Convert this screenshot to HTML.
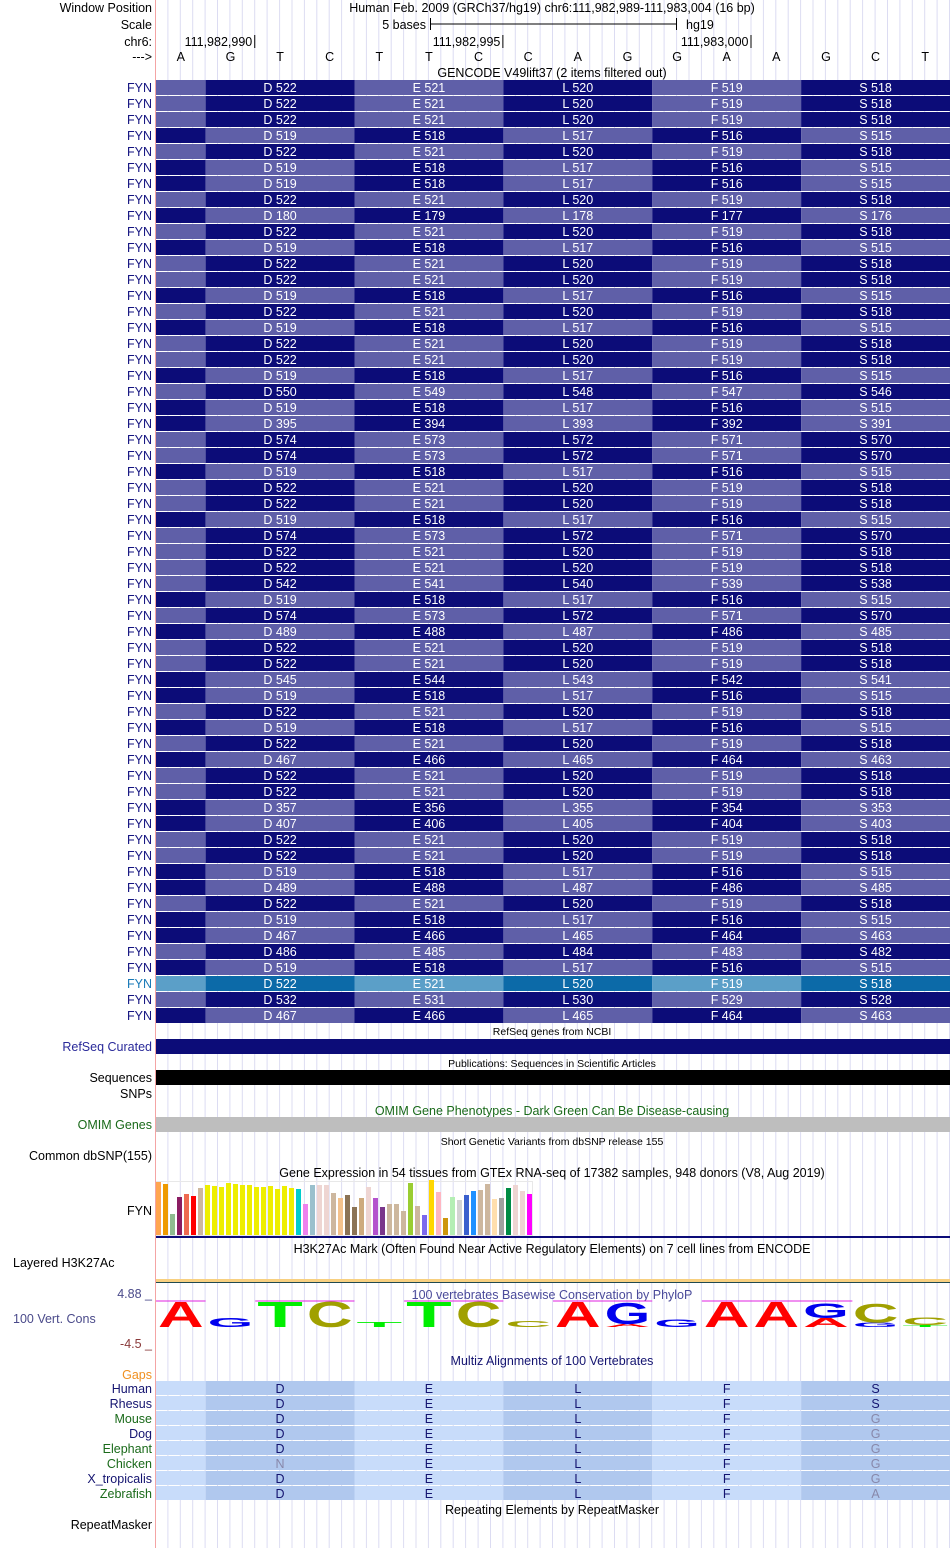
<!DOCTYPE html>
<html><head><meta charset="utf-8"><style>
html,body{margin:0;padding:0;background:#fff;}
svg{display:block;font-family:"Liberation Sans",sans-serif;}
</style></head><body>
<svg id="s" width="950" height="1548" viewBox="0 0 950 1548" xmlns="http://www.w3.org/2000/svg">
<g id="grid"></g>
<line x1="155.5" y1="0" x2="155.5" y2="1548" stroke="#f4a4a4" stroke-width="1"/>
<g font-size="12.5" fill="#000">
<text x="152" y="12" text-anchor="end">Window Position</text>
<text x="552" y="12" text-anchor="middle">Human Feb. 2009 (GRCh37/hg19)   chr6:111,982,989-111,983,004 (16 bp)</text>
<text x="152" y="29" text-anchor="end">Scale</text>
<text x="426" y="29" text-anchor="end">5 bases</text>
<line x1="430" y1="24" x2="677" y2="24" stroke="#000"/>
<line x1="430.5" y1="18" x2="430.5" y2="30" stroke="#000"/>
<line x1="676.5" y1="18" x2="676.5" y2="30" stroke="#000"/>
<text x="686" y="29">hg19</text>
<text x="152" y="46" text-anchor="end">chr6:</text>
<text x="152" y="61" text-anchor="end">---&gt;</text>
<text x="552" y="77" text-anchor="middle">GENCODE V49lift37 (2 items filtered out)</text>
</g>
<g id="ticks" font-size="12.5"></g>
<g id="bases" font-size="12.5"></g>
<g id="rows" font-size="12.5"></g>
<g font-size="12.5">
<text x="552" y="1035" text-anchor="middle" font-size="10.5">RefSeq genes from NCBI</text>
<text x="152" y="1051" text-anchor="end" fill="#2a2a9a">RefSeq Curated</text>
<rect x="156" y="1039" width="794" height="15" fill="#0c0c78"/>
<text x="552" y="1067" text-anchor="middle" font-size="10.5">Publications: Sequences in Scientific Articles</text>
<text x="152" y="1082" text-anchor="end">Sequences</text>
<rect x="156" y="1070" width="794" height="15" fill="#000"/>
<text x="152" y="1098" text-anchor="end">SNPs</text>
<text x="552" y="1115" text-anchor="middle" fill="#1a6a1a">OMIM Gene Phenotypes - Dark Green Can Be Disease-causing</text>
<text x="152" y="1129" text-anchor="end" fill="#1a6a1a">OMIM Genes</text>
<rect x="156" y="1117" width="794" height="15" fill="#bebebe"/>
<text x="552" y="1145" text-anchor="middle" font-size="10.5">Short Genetic Variants from dbSNP release 155</text>
<text x="152" y="1160" text-anchor="end">Common dbSNP(155)</text>
<text x="552" y="1177" text-anchor="middle">Gene Expression in 54 tissues from GTEx RNA-seq of 17382 samples, 948 donors (V8, Aug 2019)</text>
<text x="152" y="1215" text-anchor="end">FYN</text>
<rect x="156.5" y="1181.5" width="376" height="54" fill="none" stroke="#e8e8e8"/>
</g>
<g id="gtex"></g>
<g font-size="12.5">
<rect x="156" y="1236" width="794" height="2" fill="#0c0c78"/>
<text x="552" y="1253" text-anchor="middle">H3K27Ac Mark (Often Found Near Active Regulatory Elements) on 7 cell lines from ENCODE</text>
<text x="13" y="1267">Layered H3K27Ac</text>
<rect x="156" y="1279" width="794" height="3" fill="#f8d080"/>
<rect x="156" y="1282" width="794" height="1" fill="#204a50"/>
<text x="152" y="1298" text-anchor="end" fill="#4a4a8a">4.88 _</text>
<text x="13" y="1323" fill="#4a4a8a">100 Vert. Cons</text>
<text x="152" y="1348" text-anchor="end" fill="#8a3a3a">-4.5 _</text>
<text x="552" y="1299" text-anchor="middle" fill="#4a4a9a">100 vertebrates Basewise Conservation by PhyloP</text>
<text x="552" y="1365" text-anchor="middle" fill="#141470">Multiz Alignments of 100 Vertebrates</text>
<text x="152" y="1379" text-anchor="end" fill="#f09020">Gaps</text>
<text x="552" y="1514" text-anchor="middle">Repeating Elements by RepeatMasker</text>
<text x="152" y="1529" text-anchor="end">RepeatMasker</text>
</g>
<g id="magenta"></g>
<g id="logo" font-family="Liberation Sans" font-weight="bold"></g>
<g id="multiz" font-size="12.5"></g>
</svg>
<script>
const bases=["A","G","T","C","T","T","C","C","A","G","G","A","A","G","C","T"];
const tickLabels=["111,982,990","111,982,995","111,983,000"];
const tickBase=[2,7,12];
const dValues=[522,522,522,519,522,519,519,522,180,522,519,522,522,519,522,519,522,522,519,550,519,395,574,574,519,522,522,519,574,522,522,542,519,574,489,522,522,545,519,522,519,522,467,522,522,357,407,522,522,519,489,522,519,467,486,519,522,532,467];
const dDark=dValues.map((v,i)=> i===8?false:(v%2===0));
const highlightRow=56;
const aminoAcids=["D","E","L","F","S"];
const gtexValues=[53,51,21,38,41,39,47,50,49,48,52,51,50,50,48,48,49,46,49,47,46,31,50,50,50,42,37,40,28,37,48,37,28,31,31,24,52,29,20,55,43,17,38,35,40,44,45,51,36,37,47,50,44,41];
const gtexColors=["#ffa54f","#ee9a00","#8fbc8f","#8b1c62","#ee6a50","#ff0000","#cdb79e","#eeee00","#eeee00","#eeee00","#eeee00","#eeee00","#eeee00","#eeee00","#eeee00","#eeee00","#eeee00","#eeee00","#eeee00","#eeee00","#00cdcd","#ee82ee","#9ac0cd","#eed5d2","#eed5d2","#cdb79e","#f4c28c","#8b7355","#8b7355","#cdaa7d","#eed5d2","#b452cd","#7a378b","#cdb79e","#cdb79e","#cdb79e","#9acd32","#cdb79e","#7b68ee","#ffd700","#ffb6c1","#cd950c","#b4eeb4","#d3d3d3","#3a5fcd","#1e90ff","#cdb79e","#cdb79e","#ffdead","#a0a0a0","#008b45","#eed5d2","#eed5d2","#ff00ff"];
const logoLetters=["A","G","T","C","T","T","C","C","A","G","G","A","A","G","C","C"];
const logoHeights=[1.0,0.35,1.0,1.0,0.2,1.0,1.0,0.22,1.0,0.85,0.3,1.0,1.0,0.6,0.75,0.3];
const logoSub=[null,null,null,null,null,null,null,null,null,["A",0.12],null,null,null,["A",0.35],["G",0.18],["T",0.08]];
const magentaRanges=[[0,1],[2,4],[5,7],[8,10],[11,15]];
const species=["Human","Rhesus","Mouse","Dog","Elephant","Chicken","X_tropicalis","Zebrafish"];
const speciesColor=["#141470","#141470","#1a6a1a","#141470","#1a6a1a","#1a6a1a","#141470","#1a6a1a"];
const speciesAA=[["D","E","L","F","S"],["D","E","L","F","S"],["D","E","L","F","G"],["D","E","L","F","G"],["D","E","L","F","G"],["N","E","L","F","G"],["D","E","L","F","G"],["D","E","L","F","A"]];
const grayAA=[[0,0,0,0,0],[0,0,0,0,0],[0,0,0,0,1],[0,0,0,0,1],[0,0,0,0,1],[1,0,0,0,1],[0,0,0,0,1],[0,0,0,0,1]];

const NS="http://www.w3.org/2000/svg";
const X0=156,BW=794/16;
const bx=i=>X0+i*BW;
function mk(tag,attrs,parent,txt){const e=document.createElementNS(NS,tag);for(const k in attrs)e.setAttribute(k,attrs[k]);if(txt!==undefined)e.textContent=txt;parent.appendChild(e);return e;}
const G=id=>document.getElementById(id);

for(let x=X0+11.9;x<950;x+=BW/4){const l=mk("line",{x1:x.toFixed(1),y1:0,x2:x.toFixed(1),y2:1548,stroke:"#dcdcf2","stroke-width":1},G("grid"));

}

tickLabels.forEach((t,i)=>{const x=bx(tickBase[i])-1;
const tx=mk("text",{x:x-2,y:46,"text-anchor":"end"},G("ticks"),t);


mk("line",{x1:x+0.5,y1:35,x2:x+0.5,y2:48,stroke:"#000"},G("ticks"));});

bases.forEach((b,i)=>{const t=mk("text",{x:bx(i)+BW/2,y:61,"text-anchor":"middle"},G("bases"),b);

});

const codonStart=[1,4,7,10,13];
dValues.forEach((d,r)=>{
  const y=80+16*r, hl=r===highlightRow;
  const dark=hl?"#0c6aa8":"#0c0c78", light=hl?"#5b9fc8":"#5f5fa8";
  const g=mk("g",{},G("rows"));
  
  
  const lab=mk("text",{x:152,y:y+12,"text-anchor":"end",fill:hl?"#1a7ab8":"#141480"},g,"FYN");
  
  
  const dd=dDark[r];
  mk("rect",{x:X0,y:y,width:BW,height:15,fill:dd?light:dark},g);
  aminoAcids.forEach((aa,k)=>{
    const isDark=(k%2===0)?dd:!dd;
    const c=mk("rect",{x:bx(codonStart[k]),y:y,width:BW*3,height:15,fill:isDark?dark:light},g);
    
    
    mk("text",{x:bx(codonStart[k])+BW*1.5,y:y+12,"text-anchor":"middle",fill:"#fff"},g,aa+" "+(d-k));
  });
});

const gBase=1235, gScale=1.0;
gtexValues.forEach((v,i)=>{const h=v*gScale;
const b=mk("rect",{x:156+i*7,y:gBase-h,width:5,height:h,fill:gtexColors[i]},G("gtex"));

});

magentaRanges.forEach(r=>{const l=mk("line",{x1:bx(r[0]),y1:1301,x2:bx(r[1])-(r[1]===15?48:0),y2:1301,stroke:"#e020e0","stroke-width":1},G("magenta"));

});

const colorOf={A:"#ff0000",G:"#0000ee",T:"#00ee00",C:"#a0a000"};
const BASE=1327, MAXH=26;
function letter(ch,x,bottom,frac){
  const fs=36;
  const t=mk("text",{x:0,y:0,"font-size":fs,fill:colorOf[ch],textLength:BW-4,lengthAdjust:"spacingAndGlyphs",transform:`translate(${x+2},${bottom}) scale(1,${(frac*MAXH/26).toFixed(3)})`},G("logo"),ch);
  
  
}
logoLetters.forEach((ch,i)=>{
  const sub=logoSub[i]; let bottom=BASE;
  if(sub){letter(sub[0],bx(i),BASE,sub[1]);bottom=BASE-sub[1]*MAXH;}
  letter(ch,bx(i),bottom,logoHeights[i]);
});

species.forEach((sp,r)=>{
  const y=1381+15*r;
  const lab=mk("text",{x:152,y:y+12,"text-anchor":"end",fill:speciesColor[r]},G("multiz"),sp);
  
  
  mk("rect",{x:X0,y:y,width:BW,height:14,fill:"#c8dcfa"},G("multiz"));
  speciesAA[r].forEach((aa,k)=>{
    const c=mk("rect",{x:bx(codonStart[k]),y:y,width:BW*3,height:14,fill:k%2===0?"#b0c8ee":"#c8dcfa"},G("multiz"));
    
    
    mk("text",{x:bx(codonStart[k])+BW*1.5,y:y+12,"text-anchor":"middle",fill:grayAA[r][k]?"#8888aa":"#141470"},G("multiz"),aa);
  });
});
</script>
</body></html>
